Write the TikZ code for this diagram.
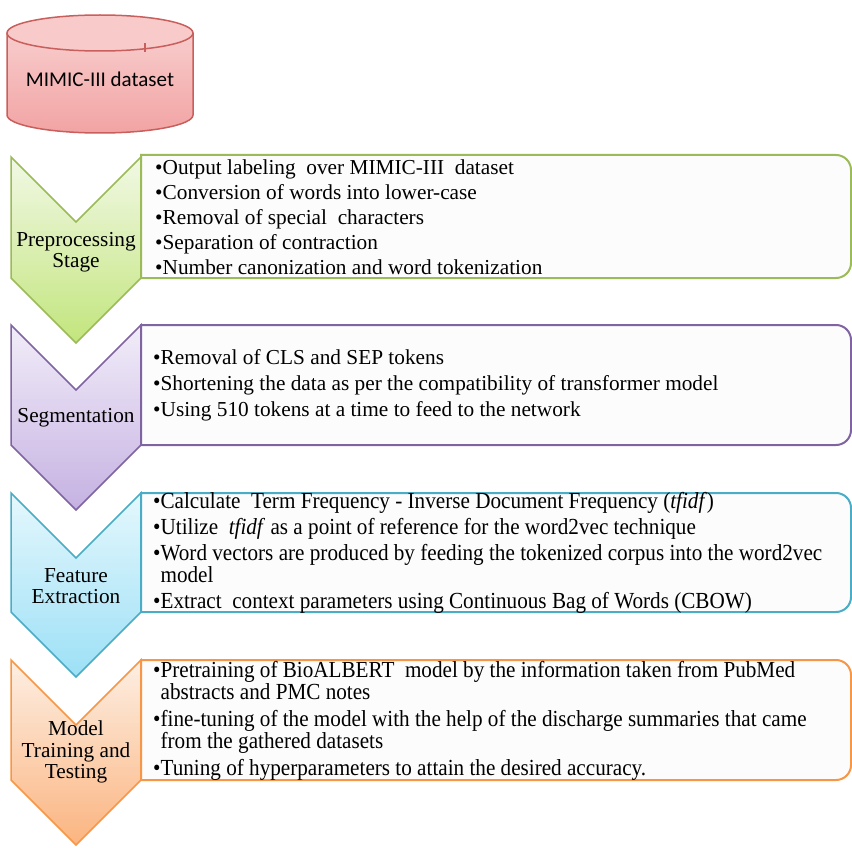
\documentclass[tikz,border=0pt]{standalone}
\usepackage{fontspec}
\usepackage{graphicx}
\setmainfont{Liberation Serif}
\newfontfamily\calib{Carlito}
\definecolor{grB}{HTML}{9BBB59}\definecolor{grT}{HTML}{F1F8E4}\definecolor{grE}{HTML}{C2E57C}
\definecolor{puB}{HTML}{8064A2}\definecolor{puT}{HTML}{F1ECF8}\definecolor{puE}{HTML}{C5B1E2}
\definecolor{blB}{HTML}{4BACC6}\definecolor{blT}{HTML}{E4F7FD}\definecolor{blE}{HTML}{9CE0F6}
\definecolor{orB}{HTML}{F79646}\definecolor{orT}{HTML}{FDEEE2}\definecolor{orE}{HTML}{FBB47F}
\definecolor{cyB}{HTML}{C95F5C}\definecolor{cyT}{HTML}{F9D3D3}\definecolor{cyE}{HTML}{F2A3A3}
\definecolor{cyTop}{HTML}{F8CACA}
\newcommand\gradshape[5]{% #1 path, #2 top colour, #3 bottom colour, #4 top y, #5 bottom y
  \begin{scope}
    \clip #1;
    \foreach \i in {0,...,49}{
      \pgfmathtruncatemacro\pp{\i*2}
      \pgfmathsetmacro\ya{#4+(#5-#4)*\i/50}
      \pgfmathsetmacro\yb{#4+(#5-#4)*(\i+1)/50+0.6}
      \fill[#3!\pp!#2] (0,\ya) rectangle (852,\yb);
    }
  \end{scope}}
\newcommand\mybox[3]{%
  \path[draw=#3,line width=2pt,fill=white!99!black] (141,#1) -- (836,#1) .. controls (844.3,#1) and (851,#1+6.7) .. (851,#1+15) -- (851,#2-15) .. controls (851,#2-6.7) and (844.3,#2) .. (836,#2) -- (141,#2) -- cycle;}
\newcommand\mychev[5]{% top y, side bottom y, border, top colour, bottom colour
  \gradshape{(11,#1) -- (76,#1+65) -- (141,#1) -- (141,#2) -- (76,#2+65) -- (11,#2) -- cycle}{#4}{#5}{#1}{#2+65}
  \draw[#3,line width=1.5pt,line join=miter] (11,#1) -- (76,#1+65) -- (141,#1) -- (141,#2) -- (76,#2+65) -- (11,#2) -- cycle;}
\newcommand\condtext[1]{\scalebox{0.92}[1]{\parbox{745pt}{\raggedright\fontsize{23pt}{22pt}\selectfont #1}}}
\tikzset{
  lbl/.style={align=center,inner sep=0pt,font=\fontsize{21.3pt}{21.5pt}\selectfont},
  itemsA/.style={align=left,inner sep=0pt,anchor=west,font=\fontsize{21.3pt}{25pt}\selectfont},
  itemsB/.style={inner sep=0pt,anchor=west},
}
\begin{document}
\begin{tikzpicture}[x=1pt,y=-1pt]
\useasboundingbox (0,0) rectangle (852,848);
% cylinder
\gradshape{(7,33) -- (7,115) .. controls (7,124.9) and (48.7,133) .. (100,133)
  .. controls (151.3,133) and (193,124.9) .. (193,115) -- (193,33)
  .. controls (193,23.1) and (151.3,15) .. (100,15)
  .. controls (48.7,15) and (7,23.1) .. (7,33) -- cycle}{cyT}{cyE}{15}{133}
\draw[cyB,line width=1.5pt]
  (7,33) -- (7,115) .. controls (7,124.9) and (48.7,133) .. (100,133)
  .. controls (151.3,133) and (193,124.9) .. (193,115) -- (193,33);
\path[draw=cyB,line width=1.5pt,fill=cyTop] (100,33) ellipse [x radius=93, y radius=18];
\draw[cyB,line width=1.5pt] (145,43) -- (145,52);
% stages
\mychev{157}{278}{grB}{grT}{grE}
\mychev{325}{445}{puB}{puT}{puE}
\mychev{493}{612}{blB}{blT}{blE}
\mychev{660}{780}{orB}{orT}{orE}
\mybox{155}{278}{grB}
\mybox{325}{445}{puB}
\mybox{493}{612}{blB}
\mybox{660}{780}{orB}
\node[itemsA] (t1) at (155,217) {•Output labeling\ \ over MIMIC-III\ \ dataset\\•Conversion of words into lower-case\\•Removal of special\ \ characters\\•Separation of contraction\\•Number canonization and word tokenization};
\node[lbl] (pre) at (76,252) {Preprocessing\\Stage};
\node[lbl] (seg) at (76,418) {Segmentation};
\node[lbl] (feat) at (76,586) {Feature\\Extraction};
\node[lbl] (model) at (76,752) {Model\\Training and\\Testing};
\node[itemsA] (t2) at (153,385) {•Removal of CLS and SEP tokens\\[1pt]•Shortening the data as per the compatibility of transformer model\\[1pt]•Using 510 tokens at a time to feed to the network};
\node[itemsB] (t3) at (153,553) {\condtext{•Calculate\ \ Term Frequency - Inverse Document Frequency (\textit{tfidf})\\[4pt]•Utilize\ \ \textit{tfidf} as a point of reference for the word2vec technique\\[4pt]•Word vectors are produced by feeding the tokenized corpus into the word2vec\\\hphantom{•}model\\[4pt]•Extract\ \ context parameters using Continuous Bag of Words (CBOW)}};
\node[itemsB] (t4) at (153,721) {\condtext{•Pretraining of BioALBERT\ \ model by the information taken from PubMed\\\hphantom{•}abstracts and PMC notes\\[5pt]•fine-tuning of the model with the help of the discharge summaries that came\\\hphantom{•}from the gathered datasets\\[5pt]•Tuning of hyperparameters to attain the desired accuracy.}};
\node[font=\calib\fontsize{21pt}{24pt}\selectfont,inner sep=0pt] (mimic) at (100,79) {MIMIC-III dataset};
\end{tikzpicture}
\end{document}
